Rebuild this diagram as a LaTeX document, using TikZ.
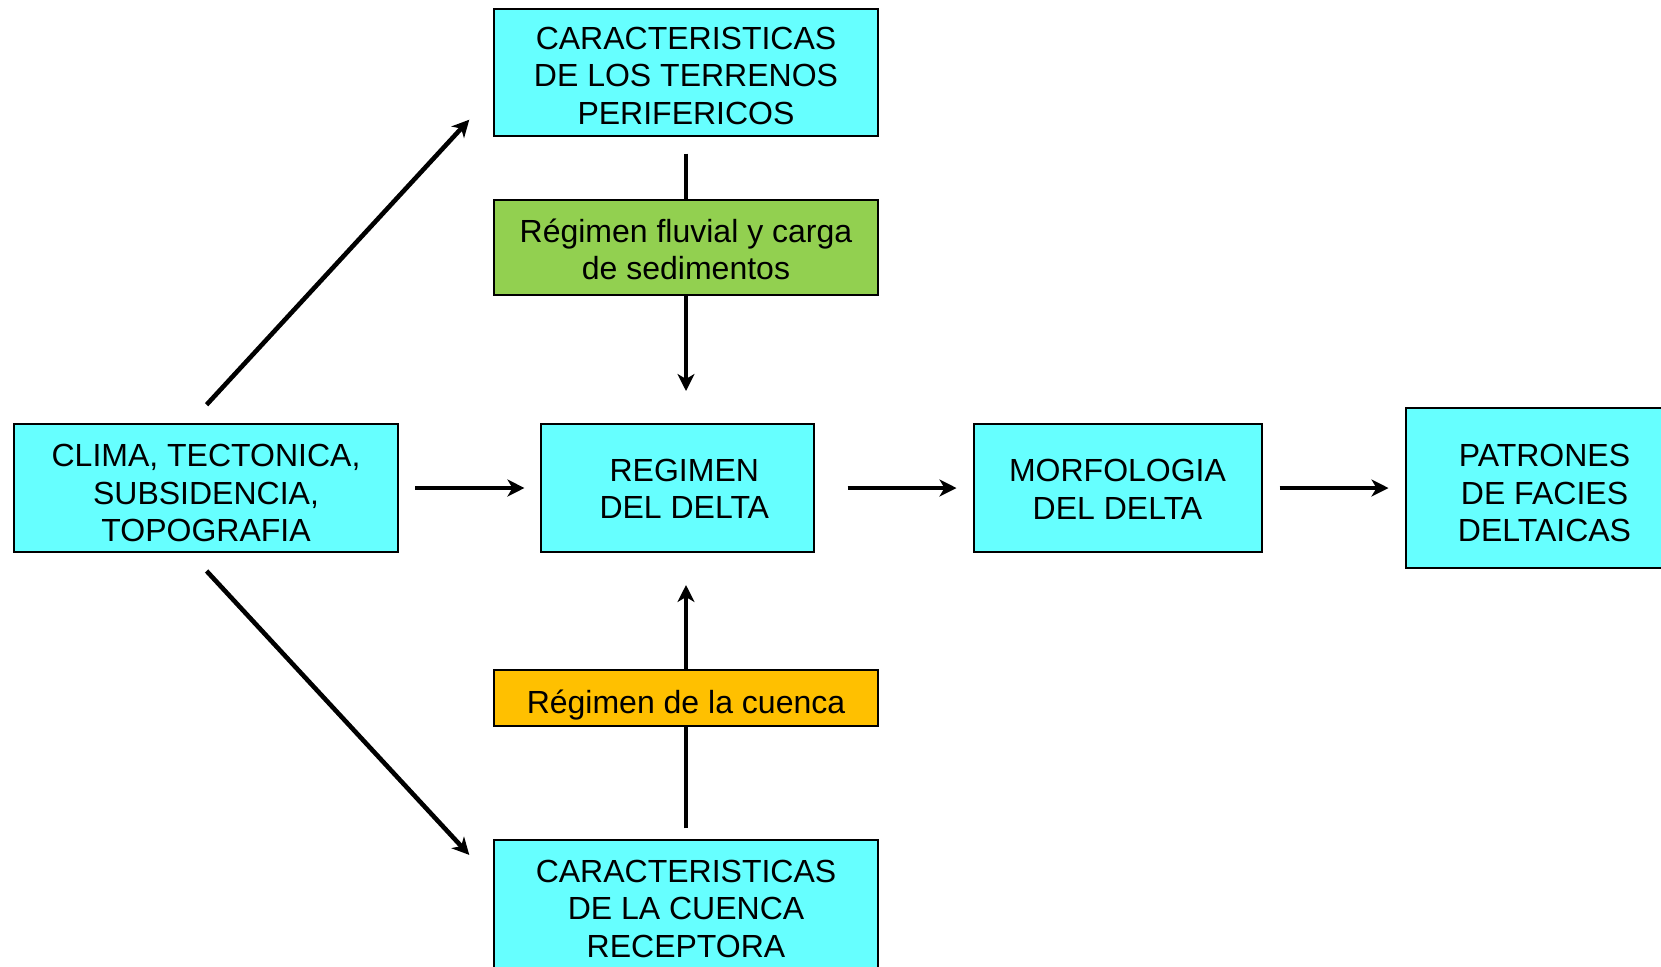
\documentclass[tikz,border=0pt]{standalone}
\usepackage{fontspec}
\setmainfont{Liberation Sans}
\usetikzlibrary{arrows.meta,calc}
\definecolor{boxcyan}{RGB}{102,255,255}
\definecolor{boxgreen}{RGB}{146,208,80}
\definecolor{boxorange}{RGB}{255,192,0}
% lines of centred text, lowered by #1 inside unchanged extents
\newcommand\mlines[2]{\raisebox{-#1}[\height][\depth]{\vbox{\halign{\hfil##\hfil\cr #2\crcr}}}}
\tikzset{
  box/.style={draw=black, line width=1pt, inner sep=0pt,
    font=\fontsize{16}{18.7}\selectfont, text=black},
  conn/.style={line width=2.3pt, draw=black},
  arr/.style={conn, -{Stealth[length=8.5pt, width=8.5pt, inset=2.5pt]}}
}
\begin{document}
\begin{tikzpicture}[x=0.5pt, y=-0.5pt]
\useasboundingbox (0,0) rectangle (1661,966);
\node[box, fill=boxcyan, minimum width=192pt, minimum height=63.5pt] (top) at (686,72)
  {\mlines{1.9pt}{CARACTERISTICAS\cr DE LOS TERRENOS\cr PERIFERICOS}};
\node[box, fill=boxgreen, minimum width=192pt, minimum height=47.75pt] (green) at (686,247.5)
  {\mlines{0.8pt}{Régimen fluvial y carga\cr de sedimentos}};
\node[box, fill=boxcyan, minimum width=192pt, minimum height=64pt] (clima) at (206,488)
  {\mlines{2.5pt}{CLIMA, TECTONICA,\cr SUBSIDENCIA,\cr TOPOGRAFIA}};
\node[box, fill=boxcyan, minimum width=136.25pt, minimum height=64pt] (reg) at (677.3,488)
  {\mlines{0.3pt}{\hspace*{7pt}REGIMEN\cr \hspace*{7pt}DEL DELTA}};
\node[box, fill=boxcyan, minimum width=144pt, minimum height=64pt] (morf) at (1117.5,488)
  {\mlines{0.7pt}{MORFOLOGIA\cr DEL DELTA}};
\node[box, fill=boxcyan, minimum width=139pt, minimum height=80pt] (pat) at (1544.5,488)
  {\mlines{2.5pt}{PATRONES\cr DE FACIES\cr DELTAICAS}};
\node[box, fill=boxorange, minimum width=192pt, minimum height=28pt] (orange) at (686,698)
  {\mlines{3.4pt}{Régimen de la cuenca}};
\node[box, fill=boxcyan, minimum width=192pt, minimum height=64.5pt] (bot) at (686,904.5)
  {\mlines{2.2pt}{CARACTERISTICAS\cr DE LA CUENCA\cr RECEPTORA}};
\coordinate (d1s) at (206.6,404.7);
\coordinate (d1e) at (469.3,119.7);
\coordinate (d2s) at (206.6,571);
\coordinate (d2e) at (469.3,854.9);
\draw[conn, shorten <=8.5pt] (top.south) -- (green.north);
\draw[arr, shorten >=16pt] (green.south) -- (green.south |- reg.north);
\draw[conn, shorten <=5.3pt] (bot.north) -- (orange.south);
\draw[arr, shorten >=16pt] (orange.north) -- (orange.north |- reg.south);
\draw[arr, shorten <=8pt, shorten >=7.8pt] (clima.east) -- (reg.west);
\draw[arr, shorten <=16.5pt, shorten >=8pt] (reg.east) -- (morf.west);
\draw[arr, shorten <=8.5pt, shorten >=8pt] (morf.east) -- (pat.west);
\draw[arr] (d1s) -- (d1e);
\draw[arr] (d2s) -- (d2e);
\end{tikzpicture}
\end{document}
